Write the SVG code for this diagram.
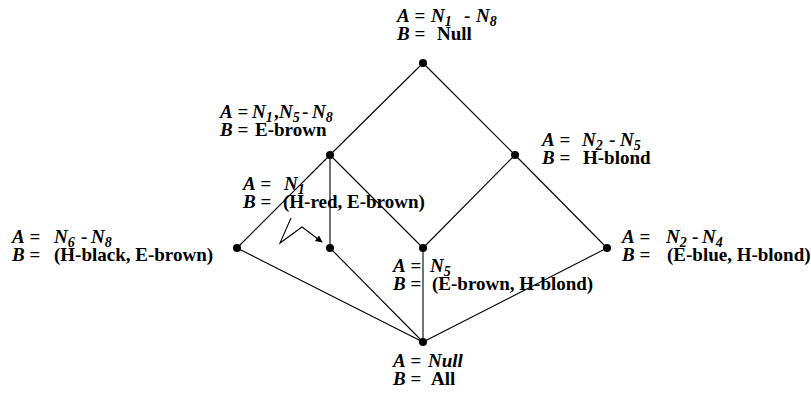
<svg xmlns="http://www.w3.org/2000/svg" width="811" height="398" viewBox="0 0 811 398">
<style>
text{font-family:"Liberation Serif","Times New Roman",serif;font-weight:bold;font-size:19px;fill:#000}
.i{font-style:italic}
.s{font-size:14px;font-style:italic}
.e{stroke:#000;stroke-width:1.1;fill:none}
.d{fill:#000}
</style>
<defs>
<marker id="ah" viewBox="0 0 10 10" refX="9" refY="5" markerWidth="8" markerHeight="7" orient="auto" markerUnits="userSpaceOnUse"><path d="M0,0L10,5L0,10z" fill="#000"/></marker>
</defs>
<g id="connectors">
<line class="e" x1="423" y1="63" x2="330" y2="155"/>
<line class="e" x1="423" y1="63" x2="515" y2="155"/>
<line class="e" x1="330" y1="155" x2="237" y2="248"/>
<line class="e" x1="330" y1="155" x2="330" y2="248"/>
<line class="e" x1="330" y1="155" x2="423" y2="248"/>
<line class="e" x1="515" y1="155" x2="423" y2="248"/>
<line class="e" x1="515" y1="155" x2="607" y2="248"/>
<line class="e" x1="237" y1="248" x2="423" y2="342"/>
<line class="e" x1="330" y1="248" x2="423" y2="342"/>
<line class="e" x1="423" y1="248" x2="423" y2="342"/>
<line class="e" x1="607" y1="248" x2="423" y2="342"/>
<polyline class="e" points="291,218 280,243 302,227 322,242" marker-end="url(#ah)"/>
</g>
<g id="n_top"><circle class="d" cx="423" cy="63" r="4"/>
<text x="397" y="22"><tspan class="i">A</tspan> = <tspan x="431" class="i">N</tspan><tspan class="s" dy="4">1</tspan><tspan dy="-4" x="464">-</tspan><tspan x="476" class="i">N</tspan><tspan class="s" dy="4">8</tspan></text>
<text x="397" y="40"><tspan class="i">B</tspan> = <tspan x="437">Null</tspan></text></g>
<g id="n_left_mid"><circle class="d" cx="330" cy="155" r="4"/>
<text x="220" y="118"><tspan class="i">A</tspan> = <tspan x="252" class="i">N</tspan><tspan class="s" dy="4">1</tspan><tspan dy="-4" x="274">,</tspan><tspan x="279" class="i">N</tspan><tspan class="s" dy="4">5</tspan><tspan dy="-4" x="302">-</tspan><tspan x="312" class="i">N</tspan><tspan class="s" dy="4">8</tspan></text>
<text x="220" y="136"><tspan class="i">B</tspan> = <tspan x="255">E-brown</tspan></text></g>
<g id="n_right_mid"><circle class="d" cx="515" cy="155" r="4"/>
<text x="542" y="146"><tspan class="i">A</tspan> = <tspan x="582" class="i">N</tspan><tspan class="s" dy="4">2</tspan><tspan dy="-4" x="609">-</tspan><tspan x="620" class="i">N</tspan><tspan class="s" dy="4">5</tspan></text>
<text x="542" y="164"><tspan class="i">B</tspan> = <tspan x="583">H-blond</tspan></text></g>
<g id="n_n1"><circle class="d" cx="330" cy="248" r="4"/>
<text x="243" y="190"><tspan class="i">A</tspan> = <tspan x="284" class="i">N</tspan><tspan class="s" dy="4">1</tspan></text>
<text x="243" y="208"><tspan class="i">B</tspan> = <tspan x="283">(H-red, E-brown)</tspan></text></g>
<g id="n_far_left"><circle class="d" cx="237" cy="248" r="4"/>
<text x="12" y="243"><tspan class="i">A</tspan> = <tspan x="54" class="i">N</tspan><tspan class="s" dy="4">6</tspan><tspan dy="-4" x="81">-</tspan><tspan x="91" class="i">N</tspan><tspan class="s" dy="4">8</tspan></text>
<text x="12" y="261"><tspan class="i">B</tspan> = <tspan x="54">(H-black, E-brown)</tspan></text></g>
<g id="n_n5"><circle class="d" cx="423" cy="248" r="4"/>
<text x="393" y="272"><tspan class="i">A</tspan> = <tspan x="430" class="i">N</tspan><tspan class="s" dy="4">5</tspan></text>
<text x="393" y="290"><tspan class="i">B</tspan> = <tspan x="432">(E-brown, H-blond)</tspan></text></g>
<g id="n_right"><circle class="d" cx="607" cy="248" r="4"/>
<text x="622" y="243"><tspan class="i">A</tspan> = <tspan x="666" class="i">N</tspan><tspan class="s" dy="4">2</tspan><tspan dy="-4" x="692">-</tspan><tspan x="702" class="i">N</tspan><tspan class="s" dy="4">4</tspan></text>
<text x="622" y="261"><tspan class="i">B</tspan> = <tspan x="667">(E-blue, H-blond)</tspan></text></g>
<g id="n_bottom"><circle class="d" cx="423" cy="342" r="4"/>
<text x="393" y="367"><tspan class="i">A</tspan> = <tspan x="428" class="i">Null</tspan></text>
<text x="393" y="385"><tspan class="i">B</tspan> = <tspan x="431">All</tspan></text></g>
</svg>
